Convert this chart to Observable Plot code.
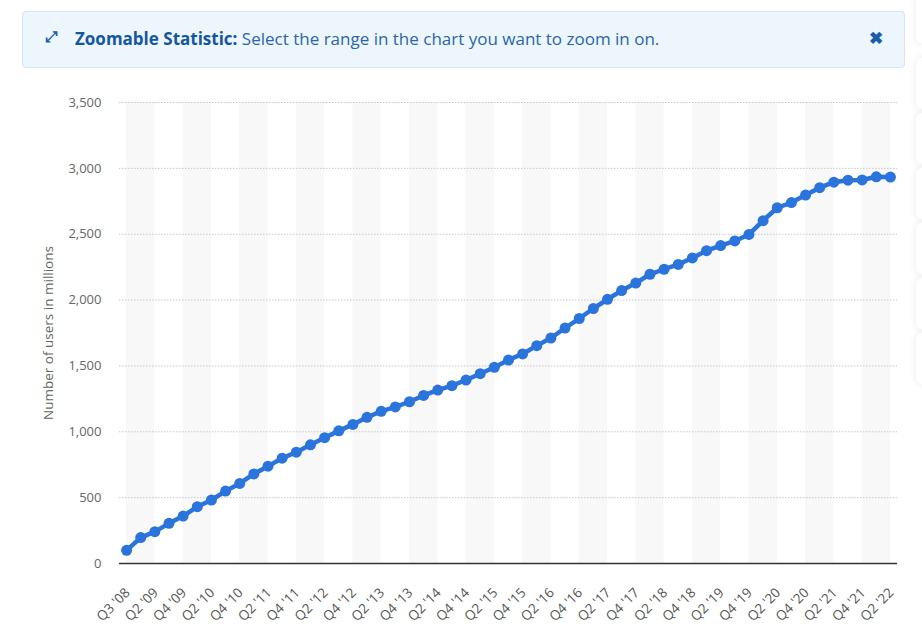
<!DOCTYPE html>
<html>
<head>
<meta charset="utf-8">
<script src="https://cdn.jsdelivr.net/npm/d3@7"></script>
<script src="https://cdn.jsdelivr.net/npm/@observablehq/plot@0.6"></script>
<style>
  html, body { margin: 0; padding: 0; background: #fff; width: 922px; height: 635px; overflow: hidden; font-family: "Open Sans", sans-serif; }
  #banner { position: absolute; left: 22px; top: 11px; width: 881px; height: 55px; background: #edf5fd; border: 1px solid #d5e5f6; border-radius: 4px; }
  #banner .icon { position: absolute; left: 22px; top: 14px; font-size: 15px; color: #1a5ea8; font-weight: bold; }
  #banner .txt { position: absolute; left: 52px; top: 15px; font-size: 17px; color: #2b66aa; white-space: nowrap; }
  #banner .txt b { color: #15579f; }
  #banner .close { position: absolute; left: 846px; top: 14px; font-size: 17px; color: #1a5ea8; font-weight: bold; }
  .card { position: absolute; left: 916px; width: 60px; height: 51px; background: #fff; border-radius: 6px; box-shadow: 0 0 8px rgba(0,0,0,0.09); }
  #chart { position: absolute; left: 0; top: 80px; }
</style>
</head>
<body>
<div id="banner">
  <span class="icon">⤢</span>
  <span class="txt"><b>Zoomable Statistic:</b> Select the range in the chart you want to zoom in on.</span>
  <span class="close">✖</span>
</div>
<div id="cards"></div>
<div id="chart"></div>
<script>
const quarters = [
  "Q3 '08",
  "Q1 '09","Q2 '09","Q3 '09","Q4 '09",
  "Q1 '10","Q2 '10","Q3 '10","Q4 '10",
  "Q1 '11","Q2 '11","Q3 '11","Q4 '11",
  "Q1 '12","Q2 '12","Q3 '12","Q4 '12",
  "Q1 '13","Q2 '13","Q3 '13","Q4 '13",
  "Q1 '14","Q2 '14","Q3 '14","Q4 '14",
  "Q1 '15","Q2 '15","Q3 '15","Q4 '15",
  "Q1 '16","Q2 '16","Q3 '16","Q4 '16",
  "Q1 '17","Q2 '17","Q3 '17","Q4 '17",
  "Q1 '18","Q2 '18","Q3 '18","Q4 '18",
  "Q1 '19","Q2 '19","Q3 '19","Q4 '19",
  "Q1 '20","Q2 '20","Q3 '20","Q4 '20",
  "Q1 '21","Q2 '21","Q3 '21","Q4 '21",
  "Q1 '22","Q2 '22"
];
const users = [
  100,
  197, 242, 305, 360,
  431, 482, 550, 608,
  680, 739, 800, 845,
  901, 955, 1007, 1056,
  1110, 1155, 1189, 1228,
  1276, 1317, 1350, 1393,
  1441, 1490, 1545, 1591,
  1654, 1712, 1788, 1860,
  1936, 2006, 2072, 2129,
  2196, 2234, 2271, 2320,
  2375, 2414, 2449, 2498,
  2603, 2701, 2740, 2797,
  2853, 2895, 2910, 2912,
  2936, 2934
];
const yTicks = [0, 500, 1000, 1500, 2000, 2500, 3000, 3500];
const yLabel = "Number of users in millions";

// right-side cut-off cards
const cardTops = [-8, 58, 113, 168, 223, 278, 333];
const cards = document.getElementById("cards");
cardTops.forEach(t => { const d = document.createElement("div"); d.className = "card"; d.style.top = t + "px"; cards.appendChild(d); });

const data = users.map((v, i) => ({i, q: quarters[i], v}));
const xTicks = quarters.map((_, i) => i).filter(i => i % 2 === 0);
const bands = quarters.map((_, i) => i).filter(i => i % 4 === 0 && i + 2 <= quarters.length - 1);

const blue = "#2a74dc";
const chart = Plot.plot({
  width: 922,
  height: 555,
  marginLeft: 119,
  marginRight: 25,
  marginTop: 22,
  marginBottom: 72,
  style: {fontFamily: "Open Sans, sans-serif", fontSize: "13px", color: "#666", background: "transparent"},
  x: {type: "linear", domain: [-0.5, quarters.length - 0.5], axis: null},
  y: {domain: [0, 3500]},
  marks: [
    Plot.rect(bands, {x1: d => d, x2: d => d + 2, y1: 0, y2: 3500, fill: "#f8f8f8"}),
    Plot.ruleY(yTicks.filter(t => t > 0), {stroke: "#c8c8c8", strokeWidth: 1, strokeDasharray: "1.5,1.5"}),
    Plot.ruleY([0], {stroke: "#333", strokeWidth: 1.5}),
    Plot.line(data, {x: "i", y: "v", stroke: blue, strokeWidth: 4.5, curve: "linear"}),
    Plot.dot(data, {x: "i", y: "v", r: 5.5, fill: blue, stroke: "none"}),
    Plot.axisY({ticks: yTicks, tickFormat: d3.format(","), tickSize: 0, tickPadding: 18, label: null, fill: "#666", fontSize: 13}),
    Plot.text(xTicks, {x: d => d, y: 0, text: d => quarters[d], rotate: -45, textAnchor: "end", lineAnchor: "middle", dx: 1, dy: 27, fill: "#555", fontSize: 13.5, clip: false}),
    Plot.text([yLabel], {frameAnchor: "left", dx: -71, rotate: -90, textAnchor: "middle", fill: "#666", fontSize: 13.5, text: d => d})
  ]
});
document.getElementById("chart").appendChild(chart);
</script>
</body>
</html>
